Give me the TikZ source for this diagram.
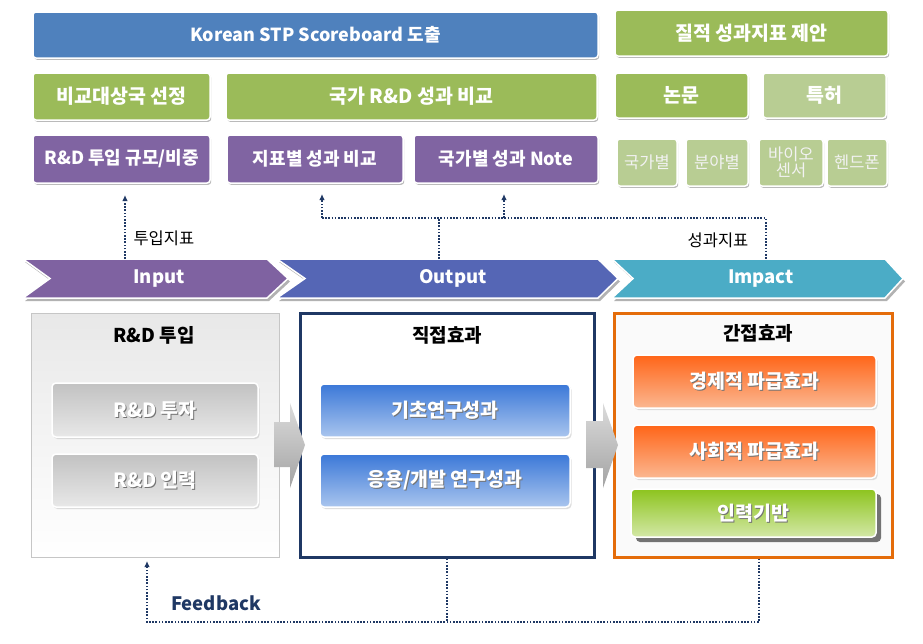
\documentclass[tikz,border=0pt]{standalone}
\usepackage{fontspec}
\setmainfont{Noto Sans CJK KR}
\usetikzlibrary{shadows,arrows.meta}
\definecolor{topblue}{HTML}{4F81BD}
\definecolor{topgreen}{HTML}{9BBB59}
\definecolor{lightgreen}{HTML}{B8CD93}
\definecolor{boxpurple}{HTML}{8064A2}
\definecolor{chevin}{HTML}{7F62A1}
\definecolor{chevout}{HTML}{5566B5}
\definecolor{chevimp}{HTML}{4BACC6}
\definecolor{navy}{HTML}{1F3864}
\definecolor{orangeb}{HTML}{E46C0A}
\definecolor{bluetop}{HTML}{3B78D8}
\definecolor{bluebot}{HTML}{A9C5EE}
\definecolor{orangetop}{HTML}{FF6518}
\definecolor{orangebot}{HTML}{FBB791}
\definecolor{greentop}{HTML}{8DC41E}
\definecolor{greenbot}{HTML}{D3E8A6}
\begin{document}
\begin{tikzpicture}[x=1pt,y=-1pt,
  tbox/.style={rounded corners=3pt, fill=#1, draw=white, line width=1.5pt,
    drop shadow={shadow xshift=1.2pt, shadow yshift=-1.8pt, fill=black!45, opacity=.6},
    text=white, inner sep=0pt},
  bigf/.style={font=\bfseries\fontsize{19.5}{22}\selectfont},
  purf/.style={font=\bfseries\fontsize{18}{20}\selectfont},
  smallf/.style={font=\fontsize{16.5}{17}\selectfont, text=white!90!gray, align=center},
  ibx/.style={rounded corners=4pt, draw=white, line width=1.5pt, inner sep=0pt,
    drop shadow={shadow xshift=1.5pt, shadow yshift=-2pt, fill=black!25, opacity=.5}},
  lbf/.style={font=\bfseries\fontsize{19.5}{22}\selectfont},
  shtxt/.style={label={[lbf, text=black!55, xshift=1pt, yshift=-1pt]center:#1},
                label={[lbf, text=white]center:#1}},
  chevtxt/.style={font=\bfseries\fontsize{18.5}{20}\selectfont, text=white, minimum height=39pt, inner sep=0pt},
  titlef/.style={font=\bfseries\fontsize{19}{22}\selectfont, text=black},
  labf/.style={font=\fontsize{16.5}{18}\selectfont, text=black},
  dotl/.style={navy, line width=1.6pt, dash pattern=on 1.6pt off 1.6pt},
  arr/.style={-{Latex[length=6pt,width=5.5pt]}},
  garrow/.style={top color=gray!28, bottom color=gray!72}
]
\useasboundingbox (0,0) rectangle (923,643);
\fill[white] (0,0) rectangle (923,643);

% ---------- top rows ----------
\node[tbox=topblue, font=\bfseries\fontsize{18}{20}\selectfont, minimum width=565pt, minimum height=46pt] (scb) at (315.5,35) {Korean STP Scoreboard 도출};
\node[tbox=topgreen, bigf, minimum width=273pt, minimum height=46pt] (qual) at (751.5,33) {질적 성과지표 제안};

\node[tbox=topgreen, bigf, minimum width=177pt, minimum height=47pt] (sel) at (121.5,96.5) {비교대상국 선정};
\node[tbox=topgreen, bigf, minimum width=371pt, minimum height=47pt] (cmp) at (411.5,96.5) {국가 R\&D 성과 비교};
\node[tbox=topgreen, bigf, minimum width=133pt, minimum height=45pt] (paper) at (681.5,95.5) {논문};
\node[tbox=lightgreen, bigf, minimum width=123pt, minimum height=45pt] (patent) at (824.5,95.5) {특허};

\node[tbox=boxpurple, purf, minimum width=177pt, minimum height=48pt] (scale) at (121.5,159) {R\&D 투입 규모/비중};
\node[tbox=boxpurple, purf, minimum width=176pt, minimum height=48pt] (ind) at (315,159) {지표별 성과 비교};
\node[tbox=boxpurple, purf, minimum width=184pt, minimum height=48pt] (note) at (506,159) {국가별 성과 Note};

\node[tbox=lightgreen, smallf, minimum width=60pt, minimum height=47pt] (cty) at (647,162.5) {국가별};
\node[tbox=lightgreen, smallf, minimum width=62pt, minimum height=47pt] (fld) at (717,162.5) {분야별};
\node[tbox=lightgreen, smallf, minimum width=64pt, minimum height=47pt] (bio) at (791,162.5) {바이오\\[-1pt]센서};
\node[tbox=lightgreen, smallf, minimum width=60pt, minimum height=47pt] (phone) at (857,162.5) {헨드폰};

% ---------- chevrons ----------
\fill[black!30, shift={(2,3)}] (23,259) -- (267,259) -- (288,278.5) -- (267,298) -- (23,298) -- (50,278.5) -- cycle;
\fill[black!30, shift={(2,3)}] (277,259) -- (598,259) -- (618,278.5) -- (598,298) -- (277,298) -- (305,278.5) -- cycle;
\fill[black!30, shift={(2,3)}] (612,259) -- (885,259) -- (903,278.5) -- (885,298) -- (612,298) -- (633,278.5) -- cycle;
\filldraw[fill=chevin, draw=white, line width=1.5pt] (23,259) -- (267,259) -- (288,278.5) -- (267,298) -- (23,298) -- (50,278.5) -- cycle;
\filldraw[fill=chevout, draw=white, line width=1.5pt] (277,259) -- (598,259) -- (618,278.5) -- (598,298) -- (277,298) -- (305,278.5) -- cycle;
\filldraw[fill=chevimp, draw=white, line width=1.5pt] (612,259) -- (885,259) -- (903,278.5) -- (885,298) -- (612,298) -- (633,278.5) -- cycle;
\node[chevtxt] (input) at (159,278.5) {Input};
\node[chevtxt] (output) at (453,278.5) {Output};
\node[chevtxt] (impact) at (761,278.5) {Impact};

% ---------- upper connectors ----------
\coordinate (inA) at (125,259);
\coordinate (inB) at (125,195);
\coordinate (outA) at (439,259);
\coordinate (outJ) at (439,218);
\coordinate (jL) at (322,218);
\coordinate (jM) at (504,218);
\coordinate (jR) at (766,218);
\coordinate (impA) at (766,259);
\coordinate (tL) at (322,194);
\coordinate (tM) at (504,194);
\draw[dotl, arr] (inA) -- (inB);
\draw[dotl] (outA) -- (outJ);
\draw[dotl] (jL) -- (jR) -- (impA);
\draw[dotl, arr] (jL) -- (tL);
\draw[dotl, arr] (jM) -- (tM);
\node[labf, anchor=west] (lin) at (130,238) {투입지표};
\node[labf] (lout) at (718,240) {성과지표};

% ---------- lower boxes ----------
\node[draw=gray!45, line width=0.6pt, top color=gray!18, bottom color=white, minimum width=248pt, minimum height=244pt] (inbox) at (155,435) {};
\node[draw=navy, line width=3pt, fill=white, minimum width=294pt, minimum height=244pt] (dbox) at (447,435) {};
\node[draw=orangeb, line width=3pt, fill=gray!4, minimum width=278pt, minimum height=244pt] (ibox) at (753,435) {};

\node[titlef] (intitle) at (154,335) {R\&D 투입};
\node[titlef] (dtitle) at (447,335) {직접효과};
\node[titlef] (ititle) at (758,333) {간접효과};

\node[ibx, top color=gray!48, bottom color=gray!18, minimum width=206pt, minimum height=54pt, shtxt={R\&D 투자}] (inv) at (155,410) {};
\node[ibx, top color=gray!48, bottom color=gray!18, minimum width=206pt, minimum height=53pt, shtxt={R\&D 인력}] (hr) at (155,480.5) {};

\node[ibx, top color=bluetop, bottom color=bluebot, minimum width=250pt, minimum height=53pt, shtxt={기초연구성과}] (basic) at (445,410.5) {};
\node[ibx, top color=bluetop, bottom color=bluebot, minimum width=250pt, minimum height=53pt, shtxt={응용/개발 연구성과}] (applied) at (445,480.5) {};

\node[ibx, top color=orangetop, bottom color=orangebot, minimum width=243pt, minimum height=53pt, shtxt={경제적 파급효과}] (econ) at (754.5,381.5) {};
\node[ibx, top color=orangetop, bottom color=orangebot, minimum width=243pt, minimum height=53pt, shtxt={사회적 파급효과}] (soc) at (754.5,451.5) {};
\fill[black!55, rounded corners=4pt] (636,494) rectangle (881,542);
\node[rounded corners=4pt, draw=white, line width=1.5pt, inner sep=0pt, top color=greentop, bottom color=greenbot, minimum width=245pt, minimum height=48pt, shtxt={인력기반}] (hrbase) at (753.5,513) {};

% gray block arrows
\shade[garrow] (274,422) -- (290,422) -- (290,403) -- (305,445) -- (290,488) -- (290,467) -- (274,467) -- cycle;
\shade[garrow] (586,421) -- (603,421) -- (603,403) -- (618,445) -- (603,488) -- (603,468) -- (586,468) -- cycle;

% ---------- feedback ----------
\coordinate (fR) at (759,622);
\coordinate (fM) at (447,622);
\coordinate (fL) at (147,622);
\coordinate (fT) at (147,561);
\draw[dotl] (dbox.south) -- (fM);
\draw[dotl, arr] (ibox.south -| fR) -- (fR) -- (fL) -- (fT);
\node[font=\bfseries\fontsize{18.5}{22}\selectfont, text=navy] (fb) at (216,603) {Feedback};
\end{tikzpicture}
\end{document}
